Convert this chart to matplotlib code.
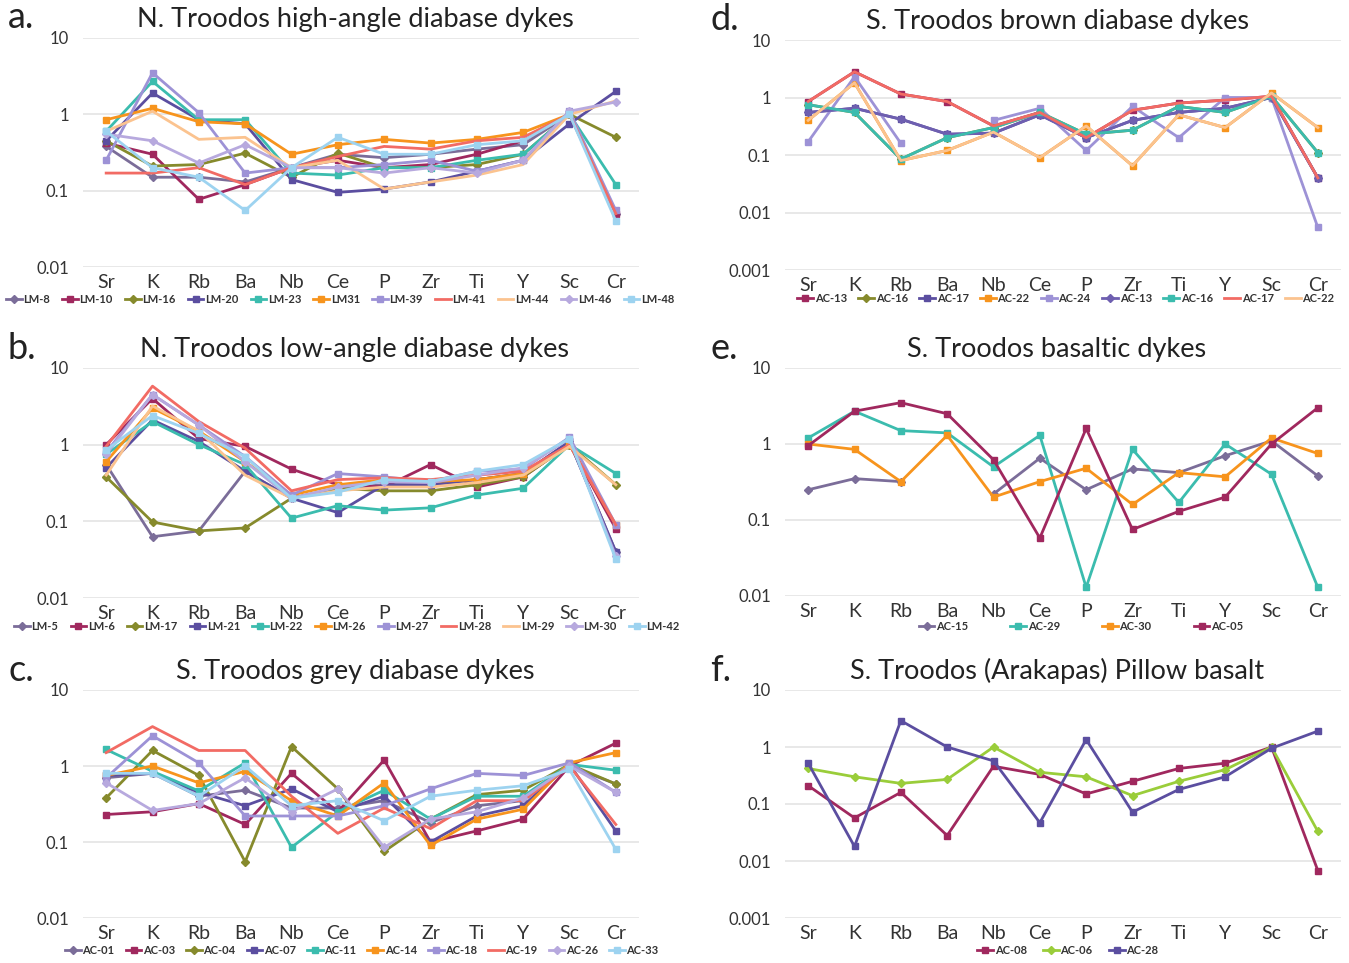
import numpy as np
import matplotlib
matplotlib.use("Agg")
import matplotlib.pyplot as plt

plt.rcParams['font.family'] = ['Lato', 'DejaVu Sans']

nan = np.nan
elements = ["Sr", "K", "Rb", "Ba", "Nb", "Ce", "P", "Zr", "Ti", "Y", "Sc", "Cr"]

# colours used by the sample series
PURPLE_GREY = "#7b6d99"
MAGENTA = "#a0285e"
OLIVE = "#868a2c"
INDIGO = "#5b4ea0"
TEAL = "#3bbcae"
ORANGE = "#f7941d"
LAVENDER = "#9d92d6"
SALMON = "#f26b64"
LIGHT_ORANGE = "#fbc38f"
LIGHT_PURPLE = "#b7a9de"
LIGHT_BLUE = "#9dd3f0"
LIME = "#9acd3a"

# ---- a. N. Troodos high-angle diabase dykes
a_labels = ["LM-8", "LM-10", "LM-16", "LM-20", "LM-23", "LM31", "LM-39", "LM-41", "LM-44", "LM-46", "LM-48"]
a_lm8 = [0.38, 0.15, 0.15, 0.13, 0.2, 0.3, 0.27, 0.3, 0.35, 0.4, 1.0, 0.05]
a_lm10 = [0.42, 0.3, 0.077, 0.12, 0.2, 0.25, 0.2, 0.22, 0.3, 0.45, 1.0, 0.05]
a_lm16 = [0.45, 0.21, 0.22, 0.31, 0.15, 0.31, 0.2, 0.2, 0.22, 0.3, 1.0, 0.5]
a_lm20 = [0.45, 1.9, 0.85, 0.75, 0.14, 0.095, 0.105, 0.13, 0.18, 0.25, 0.75, 2.0]
a_lm23 = [0.6, 2.7, 0.85, 0.85, 0.17, 0.16, 0.2, 0.2, 0.25, 0.3, 1.0, 0.12]
a_lm31 = [0.85, 1.2, 0.8, 0.75, 0.3, 0.4, 0.47, 0.42, 0.47, 0.58, 1.0, nan]
a_lm39 = [0.25, 3.5, 1.05, 0.17, 0.2, 0.2, 0.22, 0.25, 0.18, 0.25, 1.1, 0.055]
a_lm41 = [0.17, 0.17, 0.2, 0.12, 0.2, 0.28, 0.38, 0.35, 0.45, 0.5, 1.0, 0.05]
a_lm44 = [0.6, 1.1, 0.47, 0.5, 0.2, 0.25, 0.105, 0.13, 0.16, 0.22, 1.0, 1.5]
a_lm46 = [0.55, 0.45, 0.23, 0.4, 0.2, 0.2, 0.17, 0.2, 0.17, 0.25, 1.1, 1.45]
a_lm48 = [0.6, 0.2, 0.15, 0.055, 0.2, 0.5, 0.3, 0.3, 0.4, 0.45, 1.0, 0.04]

# ---- b. N. Troodos low-angle diabase dykes
b_labels = ["LM-5", "LM-6", "LM-17", "LM-21", "LM-22", "LM-26", "LM-27", "LM-28", "LM-29", "LM-30", "LM-42"]
b_lm5 = [0.55, 0.063, 0.075, 0.45, 0.2, 0.27, 0.3, 0.3, 0.35, 0.42, 1.1, 0.04]
b_lm6 = [1.0, 4.0, 1.2, 0.95, 0.48, 0.3, 0.28, 0.55, 0.28, 0.38, 1.0, 0.08]
b_lm17 = [0.38, 0.098, 0.075, 0.082, 0.2, 0.27, 0.25, 0.25, 0.3, 0.38, 1.0, 0.3]
b_lm21 = [0.5, 2.1, 1.1, 0.45, 0.2, 0.13, 0.3, 0.3, 0.35, 0.42, 1.1, 0.04]
b_lm22 = [0.75, 2.0, 1.0, 0.55, 0.11, 0.16, 0.14, 0.15, 0.22, 0.27, 1.0, 0.42]
b_lm26 = [0.6, 3.0, 1.5, 0.6, 0.22, 0.3, 0.35, 0.33, 0.35, 0.42, 1.0, 0.09]
b_lm27 = [0.8, 4.5, 1.8, 0.7, 0.22, 0.42, 0.38, 0.33, 0.45, 0.48, 1.25, 0.09]
b_lm28 = [0.95, 5.8, 2.0, 0.9, 0.25, 0.35, 0.37, 0.35, 0.4, 0.45, 1.0, 0.09]
b_lm29 = [0.4, 3.2, 1.5, 0.4, 0.2, 0.25, 0.28, 0.28, 0.32, 0.4, 0.95, 0.3]
b_lm30 = [0.75, 4.5, 1.8, 0.6, 0.2, 0.28, 0.33, 0.32, 0.4, 0.5, 1.2, 0.035]
b_lm42 = [0.85, 2.4, 1.4, 0.7, 0.2, 0.24, 0.35, 0.33, 0.45, 0.55, 1.2, 0.032]

# ---- c. S. Troodos grey diabase dykes
c_labels = ["AC-01", "AC-03", "AC-04", "AC-07", "AC-11", "AC-14", "AC-18", "AC-19", "AC-26", "AC-33"]
c_ac01 = [0.7, 0.8, 0.4, 0.48, 0.28, 0.28, 0.35, 0.18, 0.3, 0.35, 1.0, 0.58]
c_ac03 = [0.23, 0.25, 0.32, 0.17, 0.8, 0.25, 1.2, 0.1, 0.14, 0.2, 1.0, 2.0]
c_ac04 = [0.38, 1.6, 0.75, 0.055, 1.8, 0.5, 0.075, 0.2, 0.42, 0.48, 1.05, 0.58]
c_ac07 = [0.75, 0.8, 0.45, 0.3, 0.5, 0.25, 0.4, 0.1, 0.22, 0.3, 1.05, 0.14]
c_ac11 = [1.65, 0.85, 0.47, 1.1, 0.085, 0.25, 0.48, 0.2, 0.4, 0.4, 1.05, 0.88]
c_ac14 = [0.75, 1.0, 0.6, 0.85, 0.35, 0.22, 0.6, 0.09, 0.2, 0.27, 1.1, 1.5]
c_ac18 = [0.7, 2.5, 1.1, 0.22, 0.22, 0.22, 0.3, 0.5, 0.8, 0.75, 1.1, 0.45]
c_ac19 = [1.5, 3.3, 1.6, 1.6, 0.4, 0.13, 0.28, 0.15, 0.35, 0.35, 1.0, 0.17]
c_ac26 = [0.6, 0.26, 0.32, 0.7, 0.25, 0.5, 0.085, 0.2, 0.25, 0.38, 1.0, 0.45]
c_ac33 = [0.8, 0.8, 0.4, 1.0, 0.3, 0.35, 0.19, 0.4, 0.48, 0.55, 0.9, 0.08]

# ---- d. S. Troodos brown diabase dykes
d_labels = ["AC-13", "AC-16", "AC-17", "AC-22", "AC-24", "AC-13", "AC-16", "AC-17", "AC-22"]
d_ac13 = [0.85, 2.8, 1.15, 0.85, 0.32, 0.55, 0.2, 0.6, 0.8, 0.9, 1.05, 0.04]
d_ac16 = [0.75, 0.55, 0.085, 0.2, 0.3, 0.55, 0.23, 0.27, 0.7, 0.55, 1.05, 0.11]
d_ac17 = [0.55, 0.65, 0.42, 0.23, 0.24, 0.5, 0.2, 0.4, 0.55, 0.65, 1.0, 0.04]
d_ac22 = [0.4, 1.8, 0.08, 0.12, 0.25, 0.09, 0.32, 0.065, 0.5, 0.3, 1.2, 0.3]
d_ac24 = [0.17, 2.3, 0.16, nan, 0.4, 0.65, 0.12, 0.7, 0.2, 1.0, 1.0, 0.0055]
d_ac13b = [0.55, 0.65, 0.42, 0.23, 0.24, 0.5, 0.2, 0.4, 0.55, 0.65, 1.0, 0.04]
d_ac16b = [0.75, 0.55, 0.085, 0.2, 0.3, 0.55, 0.23, 0.27, 0.7, 0.55, 1.05, 0.11]
d_ac17b = [0.85, 2.8, 1.15, 0.85, 0.32, 0.55, 0.2, 0.6, 0.8, 0.9, 1.05, 0.04]
d_ac22b = [0.4, 1.8, 0.08, 0.12, 0.25, 0.09, 0.32, 0.065, 0.5, 0.3, 1.2, 0.3]

# ---- e. S. Troodos basaltic dykes
e_labels = ["AC-15", "AC-29", "AC-30", "AC-05"]
e_ac15 = [0.25, 0.35, 0.32, nan, 0.22, 0.65, 0.25, 0.47, 0.42, 0.7, 1.1, 0.38]
e_ac29 = [1.2, 2.7, 1.5, 1.4, 0.5, 1.3, 0.013, 0.85, 0.17, 1.0, 0.4, 0.013]
e_ac30 = [1.0, 0.85, 0.32, 1.3, 0.2, 0.32, 0.48, 0.16, 0.42, 0.37, 1.2, 0.75]
e_ac05 = [0.95, 2.7, 3.5, 2.5, 0.62, 0.058, 1.6, 0.075, 0.13, 0.2, 1.0, 3.0]

# ---- f. S. Troodos (Arakapas) Pillow basalt
f_labels = ["AC-08", "AC-06", "AC-28"]
f_ac08 = [0.21, 0.057, 0.16, 0.028, 0.46, 0.33, 0.15, 0.25, 0.42, 0.52, 1.0, 0.0068]
f_ac06 = [0.42, 0.3, 0.23, 0.27, 1.0, 0.36, 0.3, 0.14, 0.25, 0.4, 1.0, 0.033]
f_ac28 = [0.52, 0.018, 2.9, 1.0, 0.57, 0.047, 1.35, 0.072, 0.18, 0.3, 0.95, 1.9]

W, H = 1349, 963
fig = plt.figure(figsize=(W / 100, H / 100), dpi=100)


def fx(x):
    return x / W


def fy(y):
    return 1 - y / H


def panel(left, top, bottom, ymin, series, letter, title, leg_x, leg_y, colspace):
    # Sr sits at left+23, categories every 46.4 px
    ax = fig.add_axes([fx(left), fy(bottom), 556 / W, (bottom - top) / H])
    x = np.arange(len(elements))
    for vals, lab, col, mk in series:
        y = np.array(vals, dtype=float)
        ax.plot(x, y, color=col, lw=2, marker=mk, ms=4.5 if mk else 0,
                mec=col, mfc=col, label=lab)
    ax.set_yscale("log")
    ax.set_ylim(ymin, 10)
    ax.set_xlim(-0.5, 11.5)
    ticks = [10, 1, 0.1, 0.01, 0.001]
    ticks = [t for t in ticks if t >= ymin]
    ax.set_yticks(ticks)
    ax.set_yticklabels([("%g" % t) for t in ticks], fontsize=12, color="#333333")
    ax.set_yticks([], minor=True)
    ax.set_xticks(x)
    ax.set_xticklabels(elements, fontsize=14, color="#333333")
    ax.tick_params(length=0, axis="x", pad=5)
    ax.tick_params(length=0, axis="y", pad=10)
    for s in ax.spines.values():
        s.set_visible(False)
    ax.grid(axis="y", color="#e4e4e4", lw=1.2)
    ax.set_axisbelow(True)
    leg = fig.legend(handles=ax.get_lines(), loc="center",
                     bbox_to_anchor=(fx(leg_x), fy(leg_y)), ncol=len(series),
                     frameon=False, fontsize=8, handlelength=1.4,
                     handletextpad=0.15, columnspacing=colspace, borderpad=0)
    for t in leg.get_texts():
        t.set_fontweight("bold")
        t.set_color("#333333")
    fig.text(fx(left - 75), fy(top - 20), letter, fontsize=26, color="#222222",
             va="center", ha="left")
    fig.text(fx(left + 272), fy(top - 19), title, fontsize=19.5, color="#222222",
             va="center", ha="center")
    return ax


a_series = list(zip([a_lm8, a_lm10, a_lm16, a_lm20, a_lm23, a_lm31, a_lm39, a_lm41, a_lm44, a_lm46, a_lm48],
                    a_labels,
                    [PURPLE_GREY, MAGENTA, OLIVE, INDIGO, TEAL, ORANGE, LAVENDER, SALMON, LIGHT_ORANGE, LIGHT_PURPLE, LIGHT_BLUE],
                    ["D", "s", "D", "s", "s", "s", "s", None, None, "D", "s"]))
b_series = list(zip([b_lm5, b_lm6, b_lm17, b_lm21, b_lm22, b_lm26, b_lm27, b_lm28, b_lm29, b_lm30, b_lm42],
                    b_labels,
                    [PURPLE_GREY, MAGENTA, OLIVE, INDIGO, TEAL, ORANGE, LAVENDER, SALMON, LIGHT_ORANGE, LIGHT_PURPLE, LIGHT_BLUE],
                    ["D", "s", "D", "s", "s", "s", "s", None, None, "D", "s"]))
c_series = list(zip([c_ac01, c_ac03, c_ac04, c_ac07, c_ac11, c_ac14, c_ac18, c_ac19, c_ac26, c_ac33],
                    c_labels,
                    [PURPLE_GREY, MAGENTA, OLIVE, INDIGO, TEAL, ORANGE, LAVENDER, SALMON, LIGHT_PURPLE, LIGHT_BLUE],
                    ["D", "s", "D", "s", "s", "s", "s", None, "D", "s"]))
d_series = list(zip([d_ac13, d_ac16, d_ac17, d_ac22, d_ac24, d_ac13b, d_ac16b, d_ac17b, d_ac22b],
                    d_labels,
                    [MAGENTA, OLIVE, INDIGO, ORANGE, LAVENDER, "#6e5fb0", TEAL, SALMON, LIGHT_ORANGE],
                    ["s", "D", "s", "s", "s", "D", "s", None, None]))
e_series = list(zip([e_ac15, e_ac29, e_ac30, e_ac05], e_labels,
                    [PURPLE_GREY, TEAL, ORANGE, MAGENTA], ["D", "s", "s", "s"]))
f_series = list(zip([f_ac08, f_ac06, f_ac28], f_labels,
                    [MAGENTA, LIME, INDIGO], ["s", "D", "s"]))

panel(83, 38, 267, 0.01, a_series, "a.", "N. Troodos high-angle diabase dykes", 340, 299, 1.1)
panel(83, 368, 598, 0.01, b_series, "b.", "N. Troodos low-angle diabase dykes", 347, 626, 1.1)
panel(83, 690, 918, 0.01, c_series, "c.", "S. Troodos grey diabase dykes", 362, 950, 1.0)
panel(785, 40, 270, 0.001, d_series, "d.", "S. Troodos brown diabase dykes", 1066, 298, 1.05)
panel(785, 368, 596, 0.01, e_series, "e.", "S. Troodos basaltic dykes", 1081, 626, 3.8)
panel(785, 690, 918, 0.001, f_series, "f.", "S. Troodos (Arakapas) Pillow basalt", 1068, 950, 1.5)

fig.savefig("out.png", dpi=100, facecolor="white")
